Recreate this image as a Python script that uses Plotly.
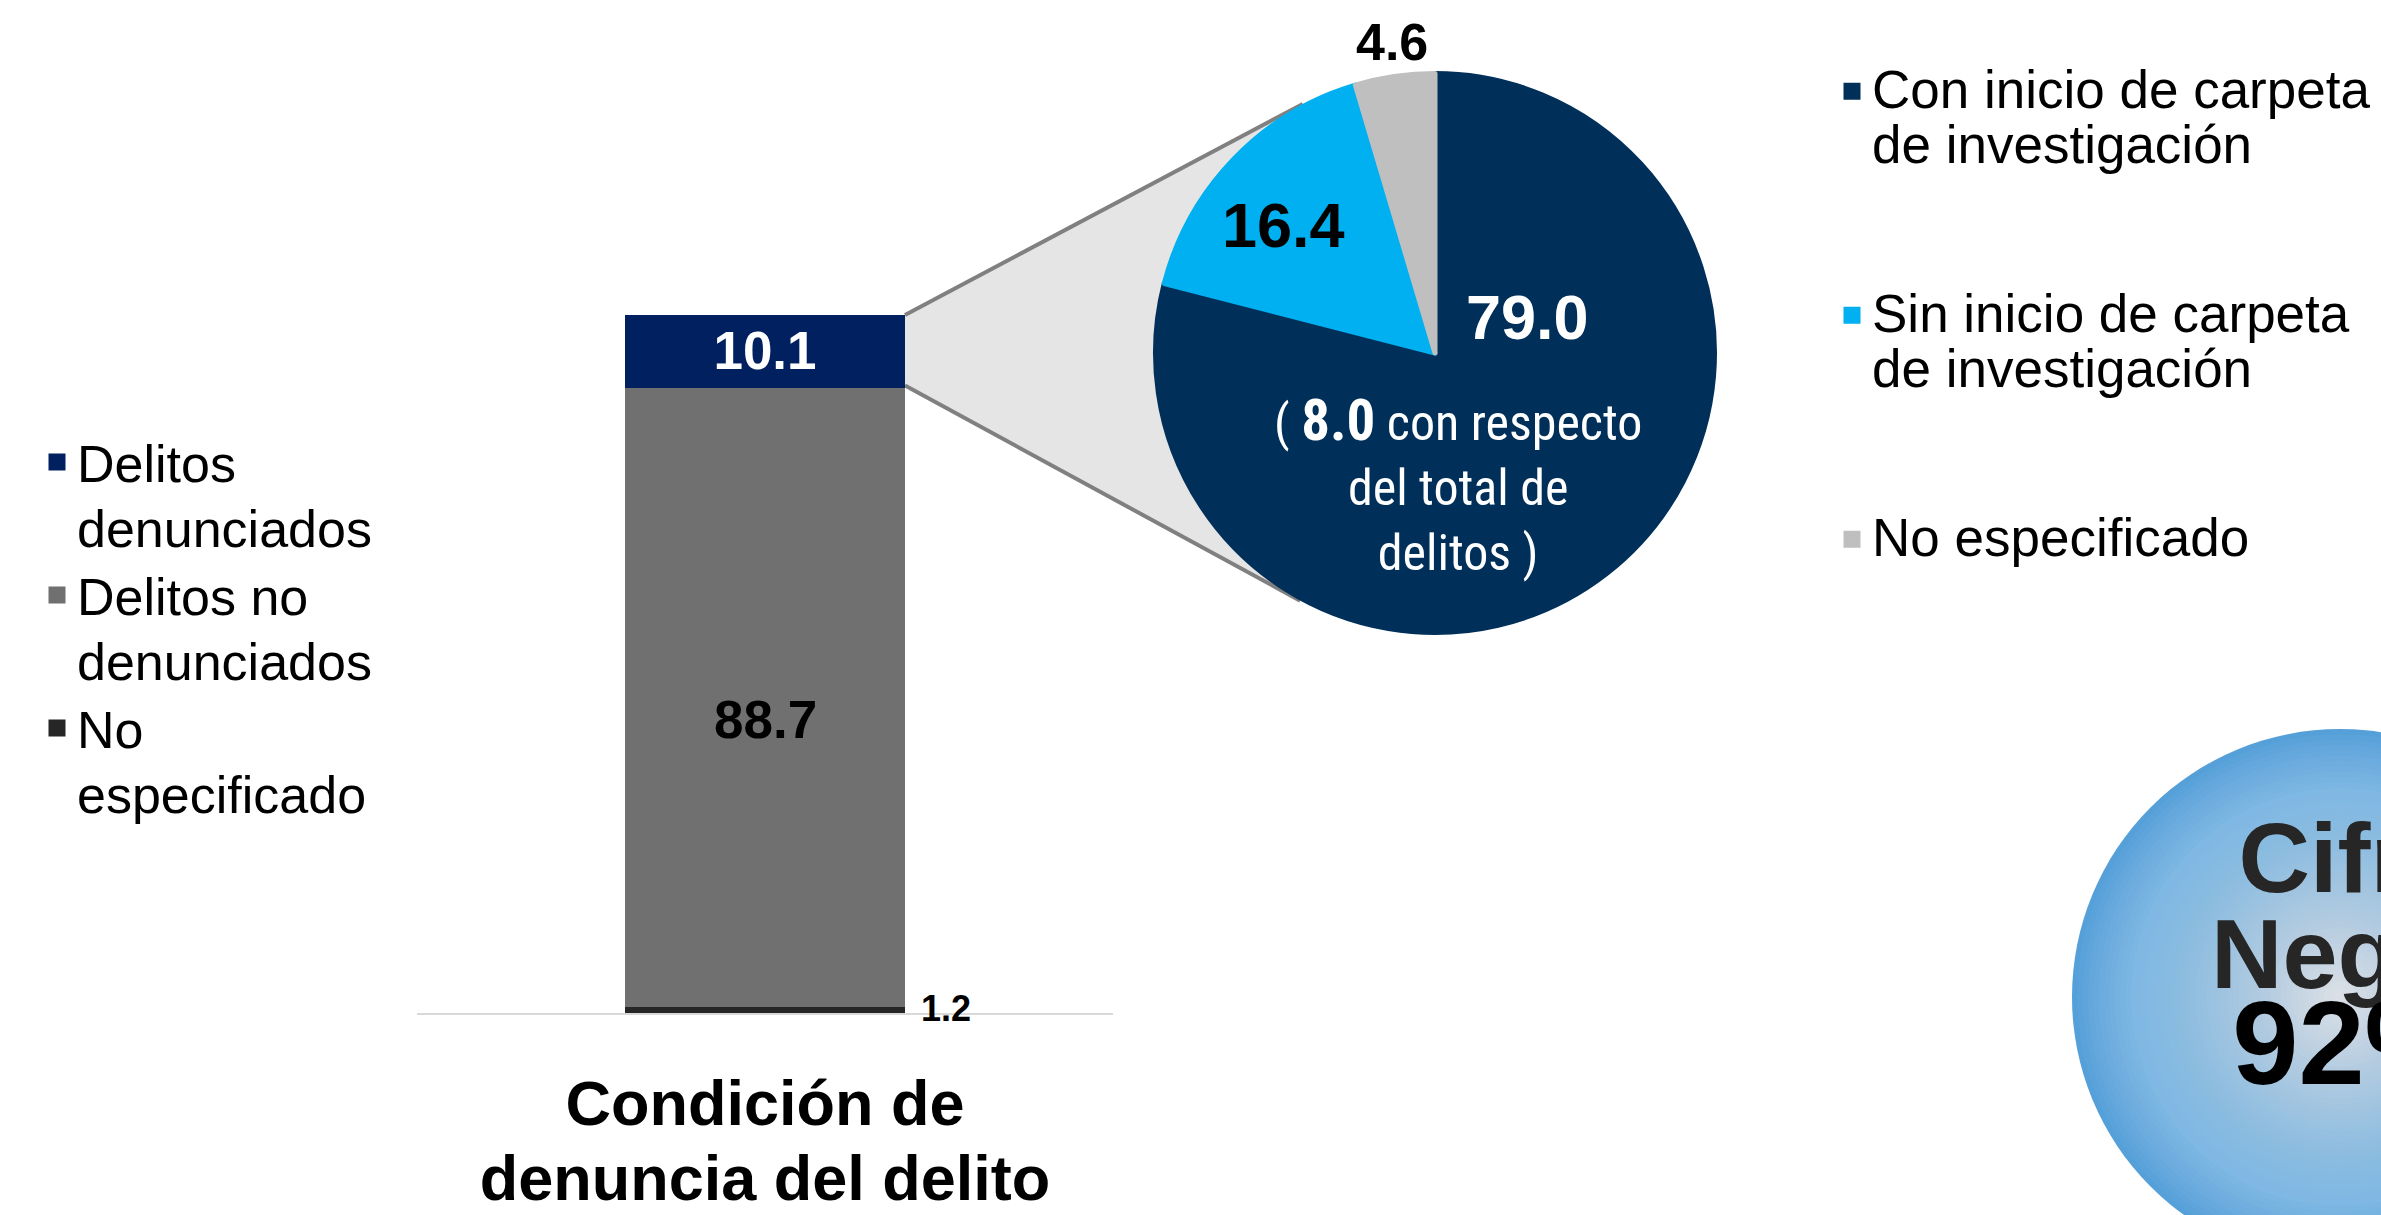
import math
import plotly.graph_objects as go

W, H = 2381, 1215

# ---------------- data ----------------
bar_category = ["Condición de<br>denuncia del delito"]
bar_series = ["No<br>especificado", "Delitos no<br>denunciados", "Delitos<br>denunciados"]  # bottom -> top
bar_values = [1.2, 88.7, 10.1]

pie_labels = ["Con inicio de carpeta<br>de investigación",
              "Sin inicio de carpeta<br>de investigación",
              "No especificado"]
pie_values = [79.0, 16.4, 4.6]
share_of_total = 8.0
cifra_negra_label = ["Cifra", "Negra"]
cifra_negra_value = 92

# ---------------- styles ----------------
bar_colors = ["#262626", "#707070", "#002060"]
bar_text_colors = ["#000000", "#000000", "#FFFFFF"]
pie_colors = ["#00305A", "#00B0F0", "#BFBFBF"]
FONT = "Arial, 'Liberation Sans', Helvetica, sans-serif"
NARROW = "'Arial Narrow', 'Liberation Sans Narrow', 'Roboto Condensed', 'DejaVu Sans Condensed', sans-serif"
OUTLINE = 5  # enlarges legend squares


def fx(px):
    return px / W


def fy(py):
    return 1 - py / H


def sized(label, px):
    parts = label.split("<br>")
    return "<br>".join(f"<span style='font-size:{px}px'>{p}</span>" for p in parts)


# layout geometry (pixels)
AX_L, AX_R = 417, 1113
BAR_TOP, BAR_BOT = 315, 1013
BAR_W = 275
BARGAP = 1 - BAR_W / (AX_R - AX_L)
PCX, PCY, PR = 1435, 353, 282
BCX, BCY, BR = 2340, 997, 268

fig = go.Figure()

for name, val, col, tcol in zip(bar_series, bar_values, bar_colors, bar_text_colors):
    show_txt = 10 <= val < 50  # other segments are labelled by annotations below
    fig.add_trace(go.Bar(
        x=bar_category, y=[val], name=sized(name, 52),
        marker=dict(color=col, line=dict(width=OUTLINE, color=col)),
        text=[f"{val:.1f}"] if show_txt else None,
        textposition="inside" if show_txt else "none",
        insidetextanchor="middle", constraintext="none", textangle=0,
        textfont=dict(family=FONT, size=53, color=tcol, weight="bold"),
        legend="legend", hoverinfo="skip",
    ))

pie_legend_labels = []
for l in pie_labels:
    s = sized(l, 53)
    if "<br>" in l:
        s += "<br>\u00a0<br>\u00a0"
    pie_legend_labels.append(s)

r_eff = PR - OUTLINE / 2
fig.add_trace(go.Pie(
    labels=pie_legend_labels,
    values=pie_values, sort=False, direction="clockwise", rotation=0,
    marker=dict(colors=pie_colors, line=dict(width=OUTLINE, color=pie_colors)),
    textinfo="none", hoverinfo="skip",
    domain=dict(x=[fx(PCX - r_eff), fx(PCX + r_eff)], y=[fy(PCY + r_eff), fy(PCY - r_eff)]),
    legend="legend2",
))

# ---- fan between bar segment and pie (tangent lines) ----
total = sum(bar_values)
bar_center = (AX_L + AX_R) / 2
bar_right = bar_center + BAR_W / 2 + OUTLINE / 2


def ypix(v):
    return BAR_BOT - v / total * (BAR_BOT - BAR_TOP)


P1 = (bar_right, ypix(total))
P2 = (bar_right, ypix(total - bar_values[-1]))


def tangent(P, sign):
    dx, dy = P[0] - PCX, P[1] - PCY
    d = math.hypot(dx, dy)
    th = math.atan2(dy, dx)
    a = math.acos(PR / d)
    ang = th + sign * a
    return (PCX + PR * math.cos(ang), PCY + PR * math.sin(ang))


T1 = min((tangent(P1, 1), tangent(P1, -1)), key=lambda t: t[1])
T2 = max((tangent(P2, 1), tangent(P2, -1)), key=lambda t: t[1])

pts = [P1, T1, (PCX, PCY), T2, P2]
path = "M " + " L ".join(f"{fx(x):.6f},{fy(y):.6f}" for x, y in pts) + " Z"
shapes = [dict(type="path", xref="paper", yref="paper", path=path,
               fillcolor="#E5E5E5", line=dict(width=0), layer="below")]
for A, B in [(P1, T1), (P2, T2)]:
    shapes.append(dict(type="line", xref="paper", yref="paper",
                       x0=fx(A[0]), y0=fy(A[1]), x1=fx(B[0]), y1=fy(B[1]),
                       line=dict(color="#808080", width=4), layer="below"))

# ---- bubble with radial gradient (stepped) ----
stops = [(0.0, (222, 225, 230)), (0.3, (178, 203, 224)), (0.6, (140, 188, 224)),
         (0.78, (126, 184, 227)), (0.9, (108, 171, 222)), (1.0, (86, 160, 217))]


def grad(t):
    for (t0, c0), (t1, c1) in zip(stops[:-1], stops[1:]):
        if t <= t1:
            f = (t - t0) / (t1 - t0) if t1 > t0 else 0
            c = [round(a + (b - a) * f) for a, b in zip(c0, c1)]
            return f"rgb({c[0]},{c[1]},{c[2]})"
    c = stops[-1][1]
    return f"rgb({c[0]},{c[1]},{c[2]})"


N = 50
for k in range(N):
    r = BR * (1 - k / N)
    shapes.append(dict(type="circle", xref="paper", yref="paper",
                       x0=fx(BCX - r), x1=fx(BCX + r), y0=fy(BCY + r), y1=fy(BCY - r),
                       fillcolor=grad(r / BR), line=dict(width=0), layer="below"))

# ---- annotations ----
ann = []


def add_text(text, x, y, size, color="#000000", bold=True, family=FONT):
    ann.append(dict(text=text, x=fx(x), y=fy(y), xref="paper", yref="paper",
                    showarrow=False, xanchor="center", yanchor="middle", align="center",
                    font=dict(family=family, size=size, color=color,
                              weight="bold" if bold else "normal")))


add_text(f"{pie_values[0]:.1f}", 1527, 317, 63, "#FFFFFF")
add_text(f"{pie_values[1]:.1f}", 1283, 225, 63, "#000000")
add_text(f"{pie_values[2]:.1f}", 1392, 42, 52, "#000000")
add_text(f"( <b><span style='font-size:57px'>{share_of_total:.1f}</span></b> con respecto"
         f"<br>del total de<br>delitos )", 1458, 484, 50, "#FFFFFF", bold=False, family=NARROW)

add_text(f"<span style='font-size:99px;color:#262626'>{cifra_negra_label[0]}</span><br>"
         f"<span style='font-size:99px;color:#262626'>{cifra_negra_label[1]}</span><br>"
         f"<span style='font-size:119px;color:#000000'>{cifra_negra_value}%</span>",
         2352, 955, 74, "#000000")

# label of the large middle segment (placed a little below the segment centre, as in the reference)
ann.append(dict(text=f"{bar_values[1]:.1f}", x=bar_category[0], y=bar_values[0] + bar_values[1] / 2,
                xref="x", yref="y", showarrow=False, yshift=-24,
                xanchor="center", yanchor="middle",
                font=dict(family=FONT, size=53, color="#000000", weight="bold")))
# label of the thin bottom segment, outside to the right
ann.append(dict(text=f"{bar_values[0]:.1f}", x=bar_category[0], y=bar_values[0] / 2,
                xref="x", yref="y", showarrow=False, xshift=181,
                xanchor="center", yanchor="middle",
                font=dict(family=FONT, size=36, color="#000000", weight="bold")))

fig.update_layout(
    width=W, height=H,
    margin=dict(l=0, r=0, t=0, b=0, pad=0, autoexpand=False),
    paper_bgcolor="#FFFFFF", plot_bgcolor="rgba(0,0,0,0)",
    font=dict(family=FONT, color="#000000"),
    barmode="stack", bargap=BARGAP,
    xaxis=dict(domain=[fx(AX_L), fx(AX_R)], showline=True, linecolor="#D9D9D9", linewidth=2,
               ticks="", showgrid=False, zeroline=False, fixedrange=True,
               tickmode="array", tickvals=bar_category,
               ticktext=[sized(c, 63) for c in bar_category],
               tickfont=dict(family=FONT, size=58, color="#000000", weight="bold"),
               ticklabelstandoff=40),
    yaxis=dict(domain=[fy(BAR_BOT), fy(BAR_TOP)], range=[0, total], visible=False,
               fixedrange=True),
    legend=dict(x=fx(37), y=fy(423), xanchor="left", yanchor="top",
                traceorder="reversed", font=dict(family=FONT, size=50, color="#000000"),
                bgcolor="rgba(0,0,0,0)", valign="top", itemclick=False, itemdoubleclick=False),
    legend2=dict(x=fx(1832), y=fy(57), xanchor="left", yanchor="top",
                 traceorder="normal", font=dict(family=FONT, size=42.5, color="#000000"),
                 bgcolor="rgba(0,0,0,0)", valign="top", itemclick=False, itemdoubleclick=False),
    shapes=shapes, annotations=ann, showlegend=True, hovermode=False,
)

fig.write_html("out.html", config={"displayModeBar": False},
               post_script="document.body.style.margin='0';document.body.style.overflow='hidden';")
